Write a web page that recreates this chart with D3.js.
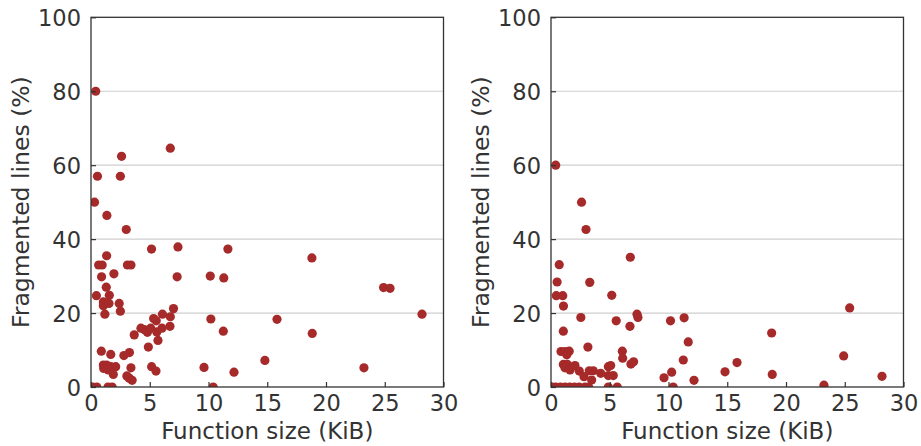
<!DOCTYPE html>
<html>
<head>
<meta charset="utf-8">
<script src="https://cdn.jsdelivr.net/npm/d3@7"></script>
<style>
  html, body { margin: 0; padding: 0; background: #fff; }
  svg text { font-family: "DejaVu Sans", sans-serif; fill: #333; }
</style>
</head>
<body>
<svg id="chart" width="921" height="446"></svg>
<script>
// Function size (KiB) and share of fragmented lines (%), one pair of arrays per panel
const sizeLeft = [0.4, 2.6, 6.75, 0.55, 2.5, 0.3, 1.35, 3.0, 5.15, 7.4, 11.65, 1.33, 0.65, 0.95, 3.1, 3.4,
  18.8, 0.9, 1.95, 7.33, 10.15, 11.3, 1.3, 24.9, 25.45, 0.46, 1.56, 1.05, 1.05, 1.53, 2.4, 2.5, 1.18,
  7.02, 6.08, 5.33, 5.55, 6.75, 10.2, 15.83, 28.17, 4.25, 4.55, 4.8, 5.08, 5.6, 6.04, 6.72, 3.68, 11.26,
  18.83, 5.7, 4.88, 0.88, 1.68, 2.8, 3.27, 14.8, 1.05, 1.33, 1.68, 2.1, 1.08, 1.47, 1.9, 3.4, 3.05,
  3.25, 3.5, 5.16, 5.53, 9.62, 12.17, 23.23, 0.15, 0.5, 1.45, 1.8, 10.4];
const fragLeft = [80, 62.4, 64.6, 57.0, 57.0, 50.0, 46.4, 42.6, 37.3, 37.9, 37.3, 35.5, 33.0, 33.0, 33.0, 33.0,
  34.9, 29.8, 30.6, 29.8, 30.0, 29.5, 27.0, 26.9, 26.7, 24.7, 24.8, 23.0, 22.0, 22.6, 22.6, 20.5, 19.7,
  21.2, 19.7, 18.5, 17.9, 19.0, 18.4, 18.3, 19.7, 15.9, 15.5, 14.8, 15.9, 14.9, 15.9, 16.4, 14.1, 15.1,
  14.5, 12.6, 10.8, 9.7, 8.8, 8.5, 9.3, 7.2, 5.95, 5.95, 5.5, 5.5, 5.0, 4.6, 3.4, 5.2, 3.0,
  2.4, 1.8, 5.5, 4.3, 5.3, 4.0, 5.2, 0, 0, 0, 0, 0];

const sizeRight = [0.4, 2.6, 2.98, 6.75, 0.7, 0.52, 3.3, 0.45, 1.0, 5.17, 1.06, 2.54, 5.55, 7.32, 7.4,
  6.72, 10.17, 11.33, 1.05, 11.68, 3.14, 6.07, 6.1, 0.85, 1.19, 1.55, 1.34, 11.26, 6.8, 7.03, 1.05,
  1.39, 1.19, 1.62, 2.04, 2.41, 2.81, 3.26, 3.6, 3.46, 4.23, 4.88, 5.08, 4.88, 5.3, 9.62, 10.27,
  12.17, 14.81, 15.83, 18.78, 18.83, 23.23, 24.91, 25.42, 28.17,
  0.1, 0.4, 0.8, 1.2, 1.6, 2.0, 2.4, 2.9, 3.2, 4.88, 5.64, 10.4];
const fragRight = [60, 50, 42.6, 35.1, 33.1, 28.4, 28.3, 24.7, 24.7, 24.8, 21.9, 18.8, 17.9, 19.7, 18.8,
  16.4, 17.9, 18.7, 15.1, 12.2, 10.8, 9.7, 7.8, 9.6, 9.6, 9.7, 8.7, 7.3, 6.2, 6.8, 6.1,
  6.1, 5.2, 4.6, 5.8, 4.3, 2.8, 4.4, 4.4, 1.9, 3.7, 5.5, 5.8, 3.1, 3.1, 2.5, 4.0,
  1.8, 4.1, 6.6, 14.6, 3.4, 0.5, 8.4, 21.4, 2.9,
  0, 0, 0, 0, 0, 0, 0, 0, 0, 0, 0, 0];

const xTicks = [0, 5, 10, 15, 20, 25, 30];
const yTicks = [0, 20, 40, 60, 80, 100];
const xTitle = "Function size (KiB)";
const yTitle = "Fragmented lines (%)";

const svg = d3.select("#chart");
const plotTop = 17.3, plotBottom = 387, plotW = 352.5;
const dotColor = "#a62a2a";

function panel(left, sizes, frags, id) {
  const x = d3.scaleLinear().domain([0, 30]).range([left, left + plotW]);
  const y = d3.scaleLinear().domain([0, 100]).range([plotBottom, plotTop]);
  const g = svg.append("g");

  // horizontal grid
  g.selectAll(".grid").data(yTicks.filter(t => t > 0 && t < 100)).join("line")
    .attr("x1", left).attr("x2", left + plotW)
    .attr("y1", d => y(d)).attr("y2", d => y(d))
    .attr("stroke", "#cfcfcf").attr("stroke-width", 1.2);

  // points, clipped to the plotting area
  g.append("clipPath").attr("id", id).append("rect")
    .attr("x", left).attr("y", plotTop).attr("width", plotW).attr("height", plotBottom - plotTop);
  g.append("g").attr("clip-path", `url(#${id})`)
    .selectAll("circle").data(sizes.map((s, i) => [s, frags[i]])).join("circle")
    .attr("cx", d => x(d[0])).attr("cy", d => y(d[1])).attr("r", 4.6)
    .attr("fill", dotColor);

  // axes with inward ticks
  const xAxis = d3.axisBottom(x).tickValues(xTicks).tickSizeInner(-5).tickSizeOuter(0).tickPadding(8);
  const yAxis = d3.axisLeft(y).tickValues(yTicks).tickSizeInner(-5).tickSizeOuter(0).tickPadding(10);
  const gx = g.append("g").attr("transform", `translate(0,${plotBottom})`).call(xAxis);
  const gy = g.append("g").attr("transform", `translate(${left},0)`).call(yAxis);
  [gx, gy].forEach(a => {
    a.select(".domain").remove();
    a.selectAll(".tick line").attr("stroke", "#333").attr("stroke-width", 1.2);
    a.selectAll(".tick text").attr("font-size", 22.5).style("fill", "#333");
  });
  gx.selectAll(".tick text").attr("dy", "0.71em");
  gy.selectAll(".tick text").attr("dy", "0.36em");

  // frame
  g.append("rect").attr("x", left).attr("y", plotTop).attr("width", plotW).attr("height", plotBottom - plotTop)
    .attr("fill", "none").attr("stroke", "#333").attr("stroke-width", 1.3);

  // titles
  g.append("text").attr("x", left + plotW / 2).attr("y", 439)
    .attr("text-anchor", "middle").attr("font-size", 23).text(xTitle);
  g.append("text").attr("transform", `translate(${left - 62},${(plotTop + plotBottom) / 2}) rotate(-90)`)
    .attr("text-anchor", "middle").attr("font-size", 23.5).text(yTitle);
}

panel(91, sizeLeft, fragLeft, "clipLeft");
panel(551, sizeRight, fragRight, "clipRight");
</script>
</body>
</html>
